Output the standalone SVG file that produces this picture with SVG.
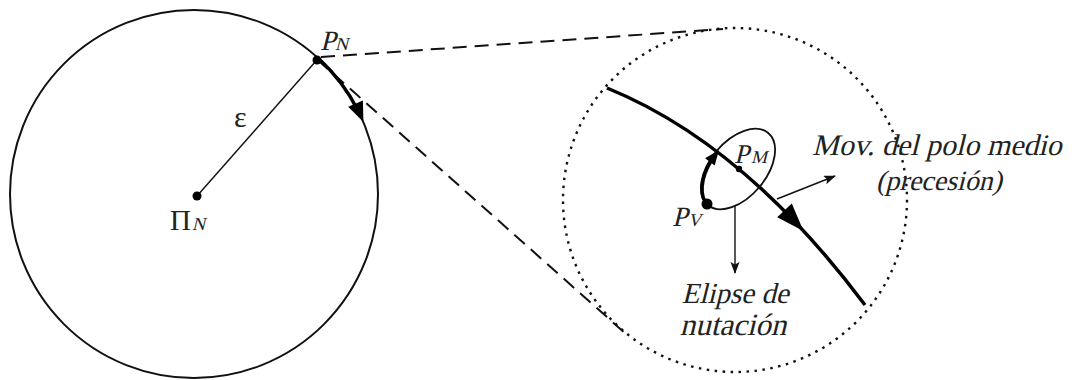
<svg xmlns="http://www.w3.org/2000/svg" width="1075" height="380" viewBox="0 0 1075 380">
<defs>
<style>
.thin{fill:none;stroke:#111;stroke-width:1.4}
.thick{fill:none;stroke:#000;stroke-width:3.5}
.dash{fill:none;stroke:#111;stroke-width:2;stroke-dasharray:14 8}
.dot{fill:none;stroke:#111;stroke-width:2.4;stroke-dasharray:2.5 5.5}
text{fill:#222;font-family:"Liberation Serif","Times New Roman",serif}
</style>
<marker id="ah" markerUnits="userSpaceOnUse" markerWidth="12" markerHeight="10" refX="11" refY="4.5" orient="auto">
<path d="M0,0 L12,4.5 L0,9 L2.5,4.5 z" fill="#111"/>
</marker>
</defs>
<rect width="1075" height="380" fill="#fff"/>
<g id="connectors">
<line class="dash" x1="321" y1="57" x2="723" y2="29"/>
<line class="dash" x1="320" y1="62" x2="626" y2="334" stroke-dashoffset="4"/>
<line class="thin" x1="316" y1="61" x2="197" y2="196"/>
<line class="thin" x1="735" y1="206" x2="735" y2="273" marker-end="url(#ah)"/>
<line class="thin" x1="777" y1="199" x2="835" y2="176" marker-end="url(#ah)"/>
</g>
<g id="big-circle">
<circle cx="194" cy="194" r="184" fill="none" stroke="#111" stroke-width="2"/>
<path class="thick" d="M318.3,58.3 A184,184 0 0 1 358,110.5" stroke-width="3"/>
<polygon points="363.4,122.1 362.9,100.6 348.2,106.8" fill="#000"/>
</g>
<g id="node-PN">
<circle cx="317" cy="60" r="4.5" fill="#000"/>
<text transform="translate(320 50) skewX(-14)" font-size="28">P</text>
<text transform="translate(335 50) skewX(-14)" font-size="18">N</text>
</g>
<g id="node-PiN">
<circle cx="197" cy="196" r="4.5" fill="#000"/>
<text x="170" y="230" font-size="29">Π</text>
<text transform="translate(192 230) skewX(-14)" font-size="18">N</text>
</g>
<g id="label-eps">
<text x="234" y="127" font-size="30">ε</text>
</g>
<g id="zoom-circle">
<circle class="dot" cx="735" cy="200" r="172"/>
<path class="thick" d="M607,88 Q744,143.5 865,305"/>
<polygon points="803.5,231 791.8,203.6 777.2,217.2" fill="#000"/>
</g>
<g id="nutation-ellipse">
<ellipse cx="738" cy="169" rx="47" ry="28" transform="rotate(-50 738 169)" fill="none" stroke="#111" stroke-width="1.8"/>
<path class="thick" d="M707.8,205 A47,28 -50 0 1 711,161.2" stroke-width="3"/>
<polygon points="719,150 714.7,165.5 705.1,158.3" fill="#000"/>
</g>
<g id="node-PV">
<circle cx="707" cy="204" r="5.5" fill="#000"/>
<text transform="translate(672 226) skewX(-14)" font-size="28">P</text>
<text transform="translate(688 226) skewX(-14)" font-size="18">V</text>
</g>
<g id="node-PM">
<circle cx="739" cy="169" r="3.2" fill="#000"/>
<text transform="translate(734 163) skewX(-14)" font-size="27">P</text>
<text transform="translate(751 163) skewX(-14)" font-size="18">M</text>
</g>
<g id="label-elipse" font-size="29" text-anchor="middle">
<text transform="translate(735 303) skewX(-14)">Elipse de</text>
<text transform="translate(733 335) skewX(-14)" font-size="31">nutación</text>
</g>
<g id="label-mov" font-size="30">
<text transform="translate(812 155) skewX(-14)">Mov. del polo medio</text>
<text transform="translate(939 190) skewX(-14)" text-anchor="middle" font-size="28">(precesión)</text>
</g>
</svg>
